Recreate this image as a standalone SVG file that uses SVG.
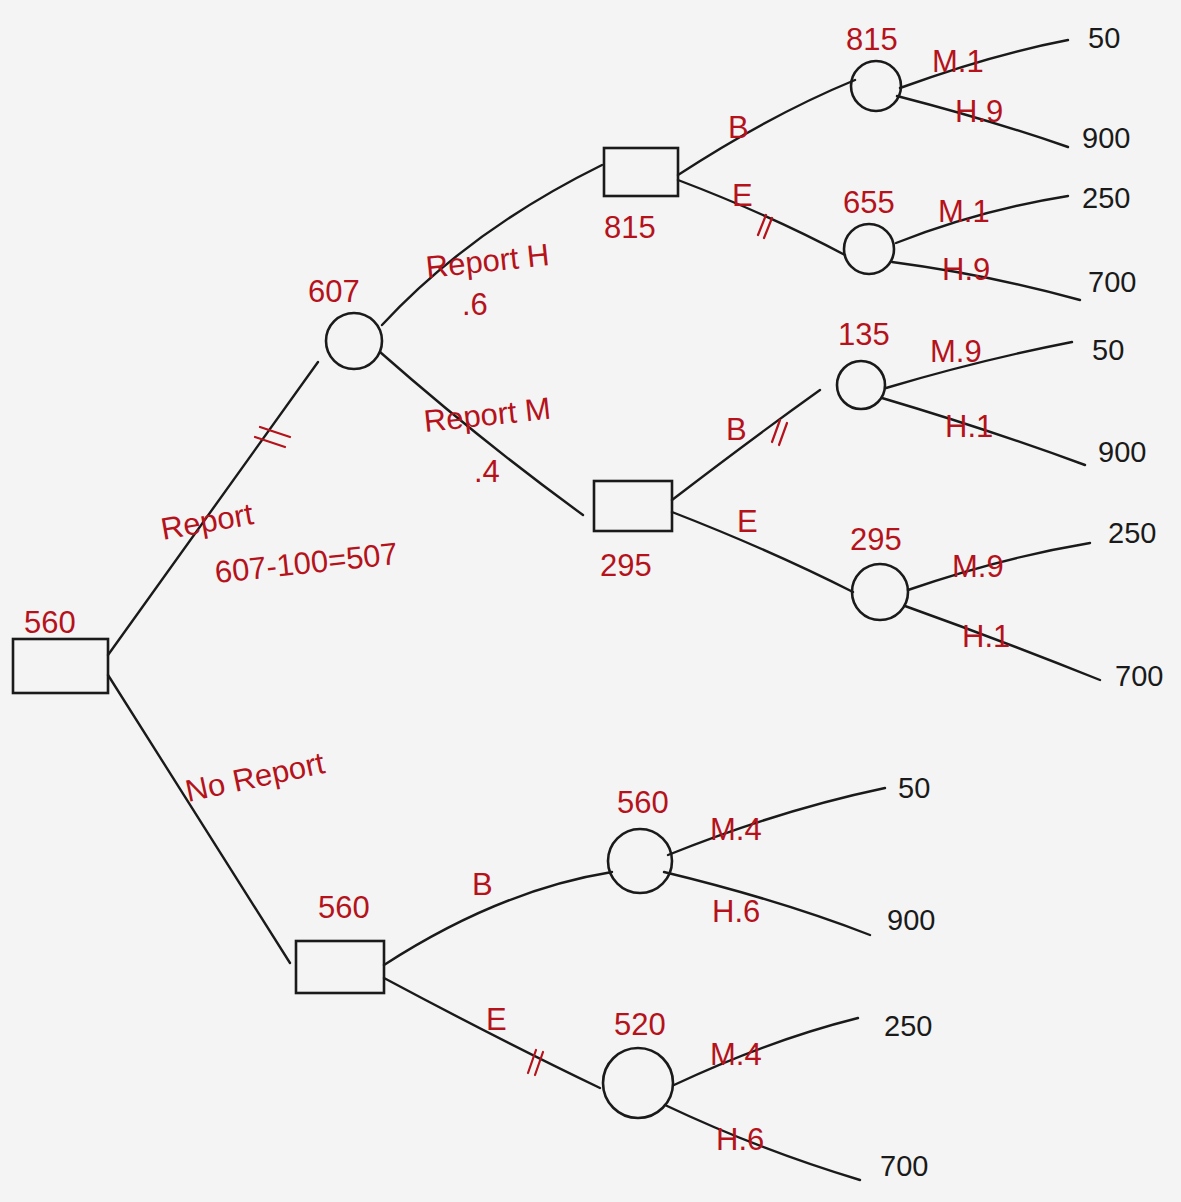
<svg xmlns="http://www.w3.org/2000/svg" width="1181" height="1202" viewBox="0 0 1181 1202">
<style>
.ln{fill:none;stroke:#1a1a1a;stroke-width:2.4;stroke-linecap:round}
.nd{fill:none;stroke:#1a1a1a;stroke-width:2.6}
.rd{fill:#b5121b;font-family:"Liberation Sans",Arial,sans-serif;font-size:31px}
.bk{fill:#1a1a1a;font-family:"Liberation Sans",Arial,sans-serif;font-size:29px}
.tick{fill:none;stroke:#b5121b;stroke-width:2.2;stroke-linecap:round}
</style>
<rect width="1181" height="1202" fill="#f4f4f4"/>
<g id="connectors">
<path class="ln" d="M108,655 L318,362"/>
<path class="ln" d="M108,675 L290,963"/>
<path class="ln" d="M382,325 Q470,230 602,165"/>
<path class="ln" d="M380,352 Q480,440 583,515"/>
<path class="ln" d="M678,175 Q770,115 855,80"/>
<path class="ln" d="M678,180 Q770,215 845,255"/>
<path class="ln" d="M900,88 Q990,55 1068,40"/>
<path class="ln" d="M897,96 Q990,120 1068,147"/>
<path class="ln" d="M896,243 Q980,210 1068,196"/>
<path class="ln" d="M892,262 Q990,275 1080,300"/>
<path class="ln" d="M672,500 Q750,440 820,390"/>
<path class="ln" d="M672,512 Q770,550 853,592"/>
<path class="ln" d="M886,388 Q980,360 1072,342"/>
<path class="ln" d="M882,398 Q990,430 1085,465"/>
<path class="ln" d="M908,590 Q1000,558 1090,543"/>
<path class="ln" d="M905,606 Q1000,640 1100,680"/>
<path class="ln" d="M384,965 Q500,890 612,872"/>
<path class="ln" d="M384,978 Q500,1040 600,1088"/>
<path class="ln" d="M668,855 Q780,810 885,788"/>
<path class="ln" d="M664,872 Q780,900 870,935"/>
<path class="ln" d="M674,1085 Q770,1040 858,1018"/>
<path class="ln" d="M665,1105 Q760,1150 860,1180"/>
<path class="tick" d="M255,437 L285,447 M260,427 L290,437"/>
<path class="tick" d="M758,235 L766,215 M764,238 L772,218"/>
<path class="tick" d="M772,442 L780,420 M779,445 L787,423"/>
<path class="tick" d="M528,1073 L536,1050 M535,1075 L543,1052"/>
</g>
<g id="root"><rect class="nd" x="13" y="639" width="95" height="54"/><text class="rd" x="24" y="633">560</text></g>
<g id="chance607"><circle class="nd" cx="354" cy="341" r="28"/><text class="rd" x="308" y="302">607</text></g>
<g id="report-labels">
<text class="rd" x="163" y="540" transform="rotate(-10 163 540)">Report</text>
<text class="rd" x="216" y="583" transform="rotate(-6 216 583)">607-100=507</text>
<text class="rd" x="427" y="278" transform="rotate(-6 427 278)">Report H</text>
<text class="rd" x="462" y="315">.6</text>
<text class="rd" x="425" y="432" transform="rotate(-6 425 432)">Report M</text>
<text class="rd" x="474" y="482">.4</text>
<text class="rd" x="188" y="802" transform="rotate(-12 188 802)">No Report</text>
</g>
<g id="box815"><rect class="nd" x="604" y="148" width="74" height="48"/><text class="rd" x="604" y="238">815</text></g>
<g id="box295"><rect class="nd" x="594" y="481" width="78" height="50"/><text class="rd" x="600" y="576">295</text></g>
<g id="box560"><rect class="nd" x="296" y="941" width="88" height="52"/><text class="rd" x="318" y="918">560</text></g>
<g id="c815"><circle class="nd" cx="876" cy="86" r="25"/><text class="rd" x="846" y="50">815</text></g>
<g id="c655"><circle class="nd" cx="869" cy="249" r="25"/><text class="rd" x="843" y="213">655</text></g>
<g id="c135"><circle class="nd" cx="861" cy="385" r="24"/><text class="rd" x="838" y="345">135</text></g>
<g id="c295"><circle class="nd" cx="880" cy="592" r="28"/><text class="rd" x="850" y="550">295</text></g>
<g id="c560"><circle class="nd" cx="640" cy="861" r="32"/><text class="rd" x="617" y="813">560</text></g>
<g id="c520"><circle class="nd" cx="638" cy="1083" r="35"/><text class="rd" x="614" y="1035">520</text></g>
<g id="branch-labels">
<text class="rd" x="728" y="138">B</text>
<text class="rd" x="732" y="206">E</text>
<text class="rd" x="726" y="440">B</text>
<text class="rd" x="737" y="532">E</text>
<text class="rd" x="472" y="895">B</text>
<text class="rd" x="486" y="1030">E</text>
<text class="rd" x="932" y="72">M.1</text>
<text class="rd" x="955" y="122">H.9</text>
<text class="rd" x="938" y="222">M.1</text>
<text class="rd" x="942" y="280">H.9</text>
<text class="rd" x="930" y="362">M.9</text>
<text class="rd" x="945" y="437">H.1</text>
<text class="rd" x="952" y="577">M.9</text>
<text class="rd" x="962" y="647">H.1</text>
<text class="rd" x="710" y="840">M.4</text>
<text class="rd" x="712" y="922">H.6</text>
<text class="rd" x="710" y="1065">M.4</text>
<text class="rd" x="716" y="1150">H.6</text>
</g>
<g id="payoffs">
<text class="bk" x="1088" y="48">50</text>
<text class="bk" x="1082" y="148">900</text>
<text class="bk" x="1082" y="208">250</text>
<text class="bk" x="1088" y="292">700</text>
<text class="bk" x="1092" y="360">50</text>
<text class="bk" x="1098" y="462">900</text>
<text class="bk" x="1108" y="543">250</text>
<text class="bk" x="1115" y="686">700</text>
<text class="bk" x="898" y="798">50</text>
<text class="bk" x="887" y="930">900</text>
<text class="bk" x="884" y="1036">250</text>
<text class="bk" x="880" y="1176">700</text>
</g>
</svg>
